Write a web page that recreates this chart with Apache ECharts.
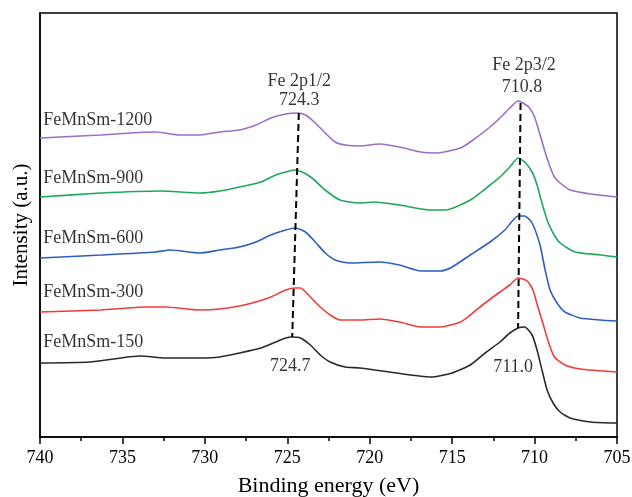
<!DOCTYPE html>
<html>
<head>
<meta charset="utf-8">
<script src="https://cdn.jsdelivr.net/npm/echarts@6/dist/echarts.min.js"></script>
<style>html,body{margin:0;padding:0;background:#fff;}#c{width:632px;height:497px;}</style>
</head>
<body>
<div id="c"></div>
<script>
// Binding energy (eV) / Intensity (a.u., offset-stacked)
const s1200 = [[740,299],[738.8,300],[736.3,302],[734.5,304],[733.0,305],[731.5,302],[730.3,302],[729.1,305],[727.9,307],[726.9,312],[726.0,319],[725.1,323],[724.4,324],[723.9,322],[723.3,314],[722.7,304],[722.1,295],[721.5,292],[720.6,291],[719.4,293],[718.2,290],[716.9,285],[715.9,284],[714.5,289],[713.9,295],[712.7,310],[712.1,319],[711.5,329],[711.0,336],[710.7,334],[710.3,329],[710.0,320],[709.7,304],[709.4,287],[709.1,272],[708.8,260],[708.45,254],[707.85,247],[706.6,243],[705.0,240]];
const s900 = [[740,240],[736.3,244],[732.7,246],[730.3,244],[729.1,246],[727.9,250],[726.6,255],[725.7,262],[725.1,265],[724.6,267],[724.1,265],[723.5,259],[722.7,247],[721.8,237],[720.6,234],[719.7,235],[718.2,232],[716.3,227],[715.4,227],[713.9,237],[712.7,252],[712.1,260],[711.5,270],[711.0,279],[710.6,275],[710.15,265],[709.85,252],[709.55,234],[709.24,217],[708.88,204],[708.45,194],[707.54,185],[706.0,182],[705.0,180]];
const s600 = [[740,179],[736.3,182],[733.0,185],[732.1,187],[730.3,184],[729.1,187],[727.9,190],[726.9,195],[726.0,202],[725.1,207],[724.5,209],[723.9,205],[723.3,195],[722.7,184],[722.1,177],[721.2,174],[719.4,175],[718.2,172],[716.9,166],[715.7,166],[715.1,169],[713.9,182],[712.7,195],[711.8,207],[711.0,221],[710.6,221],[710.15,214],[709.67,192],[709.36,167],[709.06,147],[708.64,134],[708.15,125],[707.24,119],[706.0,117],[705.0,116]];
const s300 = [[740,125],[736.3,127],[733.6,130],[732.4,130],[730.3,127],[729.1,128],[727.9,131],[726.9,135],[726.0,140],[725.1,147],[724.5,149],[724.2,149],[723.6,140],[723.0,130],[722.4,122],[721.8,117],[720.6,117],[719.4,118],[718.2,115],[716.9,110],[715.7,110],[714.5,115],[713.9,122],[713.0,134],[712.1,145],[711.5,152],[711.0,159],[710.45,156],[710.1,147],[709.8,130],[709.5,114],[709.2,97],[708.8,80],[708.15,72],[707.24,68],[705.0,65]];
const s150 = [[740,74],[737.0,75],[733.9,81],[732.4,79],[730.3,79],[729.1,80],[727.9,84],[726.6,89],[725.7,95],[725.1,99],[724.7,100],[724.2,99],[723.6,92],[723.0,82],[722.4,75],[721.5,70],[720.6,69],[718.8,65],[716.3,60],[715.0,64],[713.9,72],[713.0,84],[712.1,95],[711.5,104],[711.0,109],[710.6,110],[710.15,102],[709.85,87],[709.55,67],[709.24,47],[708.88,34],[708.45,25],[707.85,19],[706.6,15],[705.0,14]];

const seriesNames = ['FeMnSm-1200','FeMnSm-900','FeMnSm-600','FeMnSm-300','FeMnSm-150'];
const seriesColors = ['#9b6fc6','#1fa85a','#2e5fbf','#f03c3c','#2a2a2a'];
const seriesData = [s1200, s900, s600, s300, s150];
const nameLabelX = 739.8;
const nameLabelY = [317, 259, 199, 145, 95];

const annotations = [['Fe 2p1/2',724.27,356],['724.3',724.27,337],['Fe 2p3/2',710.64,372],['710.8',710.76,350],['724.7',724.82,71],['711.0',711.3,70]];
const dashLeft = [[724.3,324],[724.7,100]];
const dashRight = [[710.85,334],[711.0,109]];

const xTicks = {min:705, max:740, interval:5};
const FONT = 'Liberation Serif';

const series = seriesData.map((d,i)=>({
  type:'line', name:seriesNames[i], data:d, showSymbol:false, smooth:0.2,
  lineStyle:{color:seriesColors[i], width:1.6}, itemStyle:{color:seriesColors[i]}, z:2, silent:true
}));
[dashLeft, dashRight].forEach(d=>series.push({
  type:'line', data:d, showSymbol:false, z:3, silent:true,
  lineStyle:{color:'#000', width:2, type:[7,4]}
}));
series.push({
  type:'scatter', symbolSize:0, silent:true, z:4,
  data: nameLabelY.map((y,i)=>[nameLabelX, y, seriesNames[i]]),
  label:{show:true, position:'inside', align:'left', verticalAlign:'middle', formatter:p=>p.data[2], color:'#000', fontFamily:FONT, fontSize:18}
});
series.push({
  type:'scatter', symbolSize:0, silent:true, z:4,
  data: annotations.map(a=>[a[1],a[2],a[0]]),
  label:{show:true, position:'inside', align:'center', verticalAlign:'middle', formatter:p=>p.data[2], color:'#000', fontFamily:FONT, fontSize:18}
});

const chart = echarts.init(document.getElementById('c'), null, {renderer:'canvas'});
chart.setOption({
  animation:false,
  backgroundColor:'#fff',
  grid:{left:40, right:15, top:13, bottom:60, containLabel:false, outerBoundsMode:'none', show:true, borderColor:'#000', borderWidth:1.5},
  xAxis:{type:'value', inverse:true, min:xTicks.min, max:xTicks.max, interval:xTicks.interval,
    name:'Binding energy (eV)', nameLocation:'middle', nameGap:38,
    nameTextStyle:{fontFamily:FONT, fontSize:22, color:'#000'},
    axisLine:{show:true, lineStyle:{color:'#000', width:1.5}},
    axisTick:{show:true, inside:false, length:7, lineStyle:{color:'#000', width:1.5}},
    minorTick:{show:true, splitNumber:2, length:4, lineStyle:{color:'#000', width:1.5}},
    axisLabel:{fontFamily:FONT, fontSize:18, color:'#000', margin:12},
    splitLine:{show:false}},
  yAxis:{type:'value', min:0, max:424,
    name:'Intensity (a.u.)', nameLocation:'middle', nameGap:8,
    nameTextStyle:{fontFamily:FONT, fontSize:21, color:'#000'},
    axisLine:{show:true, lineStyle:{color:'#000', width:1.5}},
    axisTick:{show:false}, axisLabel:{show:false}, splitLine:{show:false}},
  series:series
});
</script>
</body>
</html>
